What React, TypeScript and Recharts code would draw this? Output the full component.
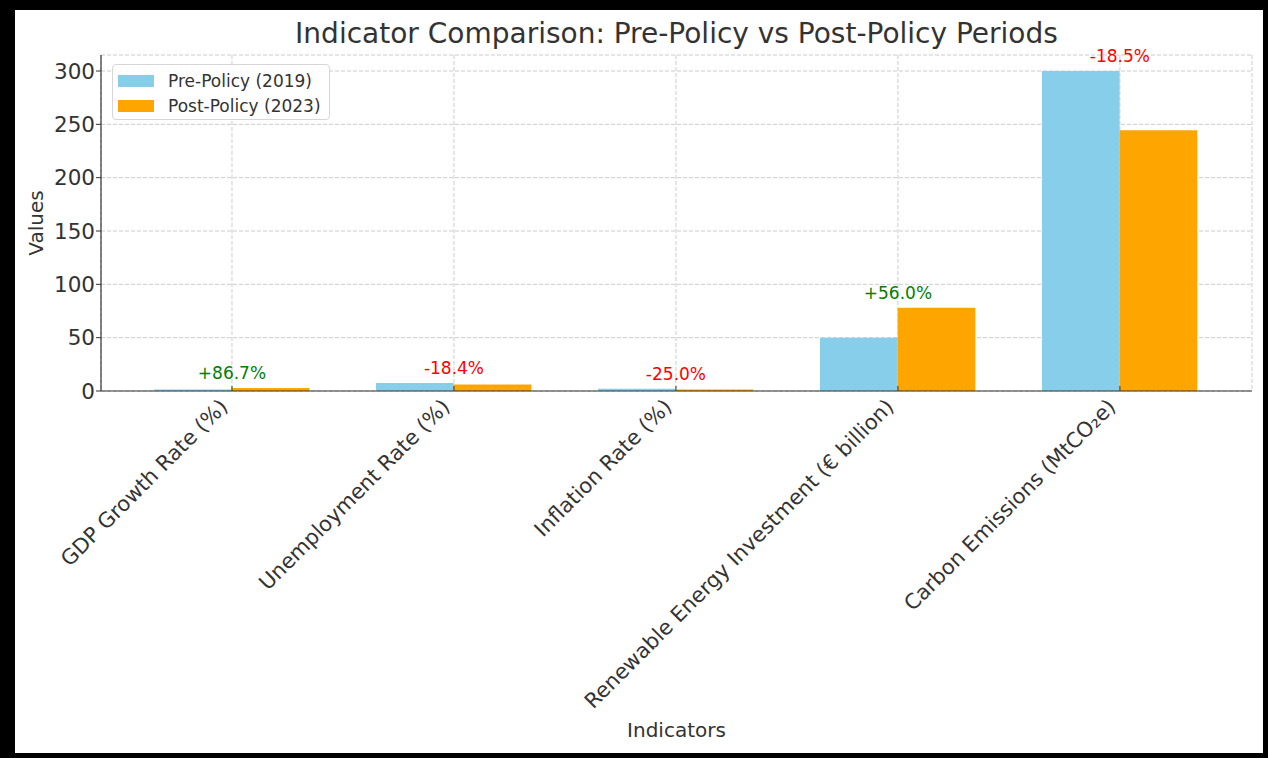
import React from 'react'
import { ComposedChart, Bar, Line, XAxis, YAxis, CartesianGrid, LabelList, Label } from 'recharts'

const FONT = '"DejaVu Sans", Verdana, sans-serif'
const INK = '#333333'

// indicator names along the x axis
const indicators = [
  'GDP Growth Rate (%)',
  'Unemployment Rate (%)',
  'Inflation Rate (%)',
  'Renewable Energy Investment (€ billion)',
  'Carbon Emissions (MtCO₂e)',
]
const preValues = [1.5, 7.6, 2.0, 50, 300]
const postValues = [2.8, 6.2, 1.5, 78, 244.5]
const yTicks = [0, 50, 100, 150, 200, 250, 300]
const xTicks = [0, 1, 2, 3, 4]

const series = [
  { key: 'pre', name: 'Pre-Policy (2019)', color: '#87ceeb' },
  { key: 'post', name: 'Post-Policy (2023)', color: '#ffa500' },
]

const chartData = indicators.map((name, i) => ({
  idx: i,
  name,
  pre: preValues[i],
  post: postValues[i],
  // the change label sits above the taller bar of each group
  peak: Math.max(preValues[i], postValues[i]),
  change: ((postValues[i] - preValues[i]) / preValues[i]) * 100,
}))

const fmtChange = (v: number) => `${v >= 0 ? '+' : ''}${v.toFixed(1)}%`

const ChangeLabel = (props: any) => {
  const { x, y, value } = props
  return (
    <text
      x={x}
      y={y - 9}
      textAnchor="middle"
      fontSize={17}
      fontFamily={FONT}
      fill={value >= 0 ? 'green' : 'red'}
    >
      {fmtChange(value)}
    </text>
  )
}

const CategoryTick = (props: any) => {
  const { x, y, payload } = props
  const tx = x - 3
  const ty = y + 17
  return (
    <g>
      <line x1={x} y1={y} x2={x} y2={y - 5} stroke={INK} strokeWidth={1} />
      <text
        x={tx}
        y={ty}
        transform={`rotate(-45, ${tx}, ${ty})`}
        textAnchor="end"
        fontSize={21}
        fontFamily={FONT}
        fill={INK}
      >
        {indicators[payload.value]}
      </text>
    </g>
  )
}

const XTitle = (props: any) => {
  const { viewBox } = props
  return (
    <text
      x={viewBox.x + viewBox.width / 2}
      y={viewBox.y + 346}
      textAnchor="middle"
      fontSize={20}
      fontFamily={FONT}
      fill={INK}
    >
      Indicators
    </text>
  )
}

const YTitle = (props: any) => {
  const { viewBox } = props
  const cx = viewBox.x - 5
  const cy = viewBox.y + viewBox.height / 2
  return (
    <text
      x={cx}
      y={cy}
      transform={`rotate(-90, ${cx}, ${cy})`}
      textAnchor="middle"
      dominantBaseline="central"
      fontSize={20}
      fontFamily={FONT}
      fill={INK}
    >
      Values
    </text>
  )
}

export default function App() {
  return (
    <div style={{ position: 'absolute', left: 0, top: 0, width: 1268, height: 758, background: '#000', fontFamily: FONT }}>
      <div style={{ position: 'absolute', left: 15, top: 10, width: 1248, height: 743, background: '#fff' }} />

      <div
        style={{
          position: 'absolute',
          left: 0,
          width: 1268,
          top: 15,
          textAlign: 'center',
          paddingLeft: 85,
          boxSizing: 'border-box',
          fontSize: 28,
          color: INK,
          lineHeight: '38px',
        }}
      >
        Indicator Comparison: Pre-Policy vs Post-Policy Periods
      </div>

      <div style={{ position: 'absolute', left: 0, top: 0 }}>
        <ComposedChart
          width={1268}
          height={758}
          data={chartData}
          margin={{ top: 55, right: 16, bottom: 67, left: 41 }}
          barGap={0}
        >
          <CartesianGrid stroke="#cccccc" strokeDasharray="4 2" />
          <XAxis
            dataKey="idx"
            type="number"
            domain={[-0.59, 4.595]}
            ticks={xTicks}
            interval={0}
            allowDataOverflow
            height={300}
            tickSize={0}
            tickMargin={0}
            tickLine={false}
            axisLine={{ stroke: INK, strokeWidth: 1.2 }}
            tick={<CategoryTick />}
          >
            <Label content={<XTitle />} />
          </XAxis>
          <YAxis
            width={60}
            domain={[0, 315]}
            ticks={yTicks}
            interval={0}
            allowDataOverflow
            tickSize={5}
            tickMargin={1}
            tickLine={{ stroke: INK }}
            axisLine={{ stroke: INK, strokeWidth: 1.2 }}
            tick={{ fontSize: 21.5, fill: INK, fontFamily: FONT }}
          >
            <Label content={<YTitle />} />
          </YAxis>
          {series.map((s) => (
            <Bar key={s.key} dataKey={s.key} name={s.name} fill={s.color} barSize={77.7} isAnimationActive={false} />
          ))}
          <Line
            dataKey="peak"
            stroke="none"
            dot={false}
            activeDot={false}
            legendType="none"
            isAnimationActive={false}
          >
            <LabelList dataKey="change" content={<ChangeLabel />} />
          </Line>
        </ComposedChart>
      </div>

      <div
        style={{
          position: 'absolute',
          left: 112,
          top: 64,
          width: 218,
          height: 56,
          boxSizing: 'border-box',
          border: '1px solid #d6d6d6',
          borderRadius: 4,
          background: 'rgba(255,255,255,0.85)',
        }}
      >
        {series.map((s, i) => (
          <div
            key={s.key}
            style={{ position: 'absolute', left: 0, top: 3 + i * 25, height: 25, display: 'flex', alignItems: 'center' }}
          >
            <div style={{ width: 36, height: 12, background: s.color, marginLeft: 5, marginRight: 14 }} />
            <span style={{ fontSize: 17, color: INK, whiteSpace: 'nowrap' }}>{s.name}</span>
          </div>
        ))}
      </div>
    </div>
  )
}
